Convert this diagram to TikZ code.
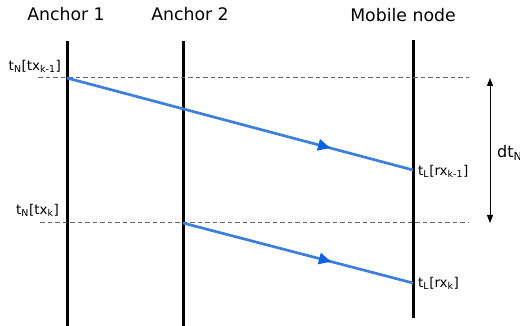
\documentclass[tikz,border=0pt]{standalone}
\usepackage{fontspec}
\setmainfont{DejaVu Sans}
\usetikzlibrary{arrows.meta,decorations.markings}
\definecolor{msgblue}{RGB}{61,128,220}
\definecolor{tipblue}{RGB}{10,100,225}
\begin{document}
\begin{tikzpicture}[x=1pt,y=-1pt,
  lifeline/.style={line width=3pt,black},
  guide/.style={black!60,dashed,dash pattern=on 4.5pt off 3pt,line width=1pt},
  title/.style={font=\fontsize{17.3}{20}\selectfont,inner sep=0pt},
  lbl/.style={font=\fontsize{13.5}{15}\selectfont,inner sep=0pt},
  msg/.style={msgblue,line width=2.7pt,postaction={decorate},
    decoration={markings,mark=at position #1 with {\fill[tipblue] (5.5pt,0) -- (-6.5pt,6pt) -- (-6.5pt,-6pt) -- cycle;}}}
  ]
\useasboundingbox (0,0) rectangle (520,326);
% titles
\node[title] (t1) at (66,14) {Anchor 1};
\node[title] (t2) at (190,14) {Anchor 2};
\node[title] (t3) at (403,15) {Mobile node};
% lifeline ends
\coordinate (a1top) at (67,41);
\coordinate (a1bot) at (67,328);
\coordinate (a2top) at (183,41);
\coordinate (a2bot) at (183,328);
\coordinate (mtop) at (413,40);
\coordinate (mbot) at (413,318);
\draw[lifeline] (a1top) -- (a1bot);
\draw[lifeline] (a2top) -- (a2bot);
\draw[lifeline] (mtop) -- (mbot);
% dashed guides
\coordinate (g1l) at (38,78);
\coordinate (g1r) at (469,78);
\coordinate (g2l) at (40,223);
\coordinate (g2r) at (469,223);
\draw[guide] (g1l) -- (g1r);
\draw[guide] (g2l) -- (g2r);
% message points
\coordinate (s1) at (67,78);
\coordinate (r1) at (413,170);
\coordinate (s2) at (183,223);
\coordinate (r2) at (413,283);
\draw[msg=0.745] (s1) -- (r1);
\draw[msg=0.62] (s2) -- (r2);
% labels
\node[lbl,anchor=south east] (l1) at (61,73) {t\textsubscript{N}[tx\textsubscript{k-1}]};
\node[lbl,anchor=south east] (l2) at (59,217) {t\textsubscript{N}[tx\textsubscript{k}]};
\node[lbl,anchor=west] (l3) at (418,171) {t\textsubscript{L}[rx\textsubscript{k-1}]};
\node[lbl,anchor=west] (l4) at (418,283) {t\textsubscript{L}[rx\textsubscript{k}]};
% dt arrow
\coordinate (dtop) at (490,78);
\coordinate (dbot) at (490,223);
\draw[line width=1pt,{Triangle[length=8pt,width=6pt]}-{Triangle[length=8pt,width=6pt]}] (dtop) -- (dbot);
\node[anchor=west,inner sep=0pt,font=\fontsize{16}{18}\selectfont] (dt) at (497,153) {dt\textsubscript{N}};
\end{tikzpicture}
\end{document}
